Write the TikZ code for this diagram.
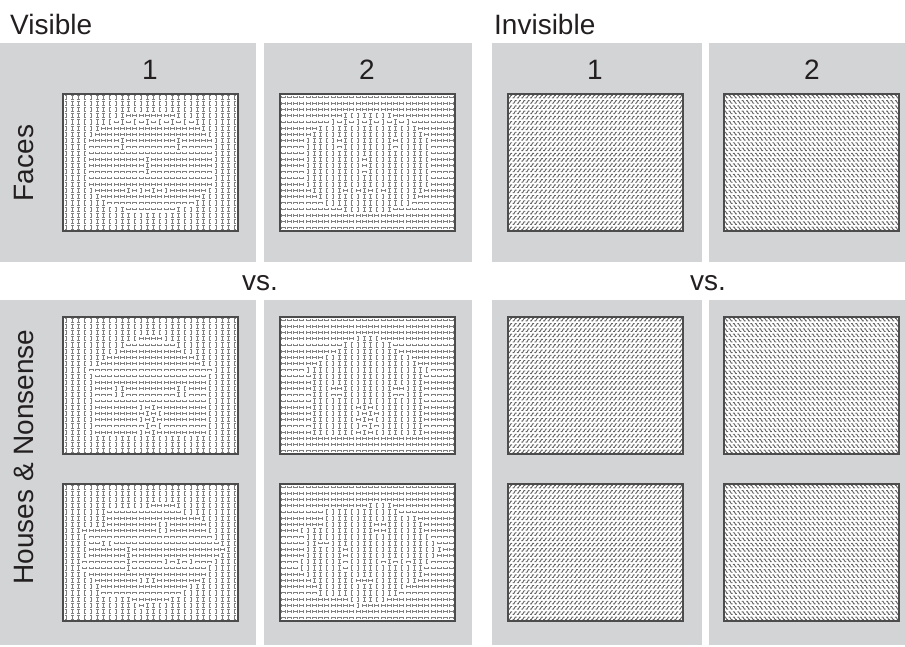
\documentclass[tikz,border=0pt]{standalone}
\usepackage{fontspec}
\setmainfont{Liberation Sans}
\definecolor{panelgray}{RGB}{211,212,214}
\definecolor{ink}{RGB}{35,31,32}
\newcommand{\faceF}{(((\i-13.5)/10.5)^2+((\j-10.5)/8.3)^2<1)&&!(((\j==7||\j==8)&&(\i==9||\i==18))||(\i==13&&\j>=10&&\j<=12)||(\j==15&&\i>=10&&\i<=17&&mod(\i,2)==0)||(\j==4&&mod(\i,2)==1))}
\newcommand{\houseF}{((\j>=3&&\j<=8&&abs(\i-13.5)<=1.5*(\j-2)+0.5)||(\j>=9&&\j<=18&&\i>=5&&\i<=22))&&!((\j>=11&&\j<=12&&((\i>=8&&\i<=9)||(\i>=18&&\i<=19)))||(\j>=14&&\j<=18&&\i>=12&&\i<=15&&mod(\i+\j,2)==0))}
\newcommand{\blobF}{(((\i-13.5)/10.5)^2+((\j-10.5)/7.8)^2<1+0.3*sin(40*\i)*cos(55*\j))&&!(((\j==6||\j==7)&&\i>=15&&\i<=16)||(\i==10&&\j>=10&&\j<=13)||(\j==12&&\i>=16&&\i<=20&&mod(\i,2)==0)||(\j==9&&\i>=6&&\i<=7)||(\j==15&&\i>=12&&\i<=14))}
\newcommand{\stripebox}[4]{%
  \fill[white] (#1,#2) rectangle ++(175,137);
  \foreach \i in {0,...,27} \foreach \j in {0,...,21} {
    \pgfmathtruncatemacro\o{mod(#3+(#4),2)}
    \pgfmathsetmacro\cx{#1+(\i+0.5)*6.25}
    \pgfmathsetmacro\cy{#2+(\j+0.5)*6.227}
    \ifnum\o=0
      \draw[el] (\cx,\cy-2.1) -- (\cx,\cy+2.1) (\cx-1.3,\cy-2.1) -- (\cx+1.3,\cy-2.1) (\cx-1.3,\cy+2.1) -- (\cx+1.3,\cy+2.1);
    \else
      \draw[el] (\cx-2.1,\cy) -- (\cx+2.1,\cy) (\cx-2.1,\cy-1.3) -- (\cx-2.1,\cy+1.3) (\cx+2.1,\cy-1.3) -- (\cx+2.1,\cy+1.3);
    \fi}
  \draw[frame] (#1,#2) rectangle ++(175,137);}
\newcommand{\noisebox}[3]{%
  \fill[white] (#1,#2) rectangle ++(175,137);
  \foreach \i in {0,...,39} \foreach \j in {0,...,25} {
    \pgfmathsetmacro\cx{#1+(\i+0.5)*4.375-2}
    \pgfmathsetmacro\cy{#2+(\j+0.5)*5.27+#3}
    \pgfmathsetmacro\dy{-2*#3}
    \draw[nz] (\cx,\cy) -- ++(1.3,0) -- ++(1.4,\dy) -- ++(1.3,0);}
  \draw[frame] (#1,#2) rectangle ++(175,137);}

\begin{document}
\begin{tikzpicture}[x=1pt,y=-1pt,
  panel/.style={fill=panelgray},
  lbl/.style={text=ink,font=\fontsize{28}{32}\selectfont,inner sep=0},
  el/.style={line width=1pt,black!50},
  nz/.style={line width=0.9pt,black!62},
  frame/.style={draw=black!70,line width=1.5pt}]
\useasboundingbox (0,0) rectangle (905,647);
\foreach \xa/\xb in {0/256,264/472,492/702,709/905} {\fill[panel] (\xa,43) rectangle (\xb,262); \fill[panel] (\xa,300) rectangle (\xb,645);}
\node[lbl,anchor=base west] (visible) at (10,35) {Visible};
\node[lbl,anchor=base west] (invisible) at (494,35) {Invisible};
\node[lbl,anchor=base] (vone) at (150,80) {1};
\node[lbl,anchor=base] (vtwo) at (367,80) {2};
\node[lbl,anchor=base] (ione) at (595,80) {1};
\node[lbl,anchor=base] (itwo) at (812,80) {2};
\node[lbl,anchor=base] (vsl) at (260,290) {vs.};
\node[lbl,anchor=base] (vsr) at (708,290) {vs.};
\node[lbl,rotate=90,anchor=base] (faces) at (33,163) {Faces};
\node[lbl,rotate=90,anchor=base] (houses) at (33,457) {Houses \& Nonsense};
\stripebox{63}{94}{0}{\faceF}
\stripebox{280}{94}{1}{\faceF}
\stripebox{63}{317}{0}{\houseF}
\stripebox{280}{317}{1}{\houseF}
\stripebox{63}{484}{0}{\blobF}
\stripebox{280}{484}{1}{\blobF}
\noisebox{508}{94}{1.3}
\noisebox{724}{94}{-1.3}
\noisebox{508}{317}{1.3}
\noisebox{724}{317}{-1.3}
\noisebox{508}{484}{1.3}
\noisebox{724}{484}{-1.3}
\end{tikzpicture}
\end{document}
